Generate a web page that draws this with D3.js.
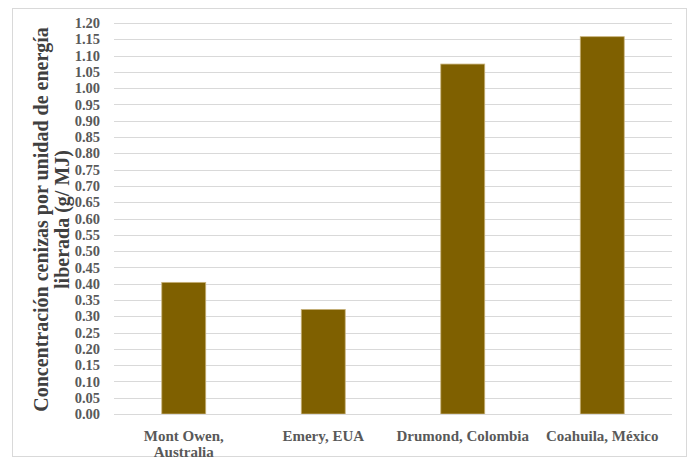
<!DOCTYPE html>
<html>
<head>
<meta charset="utf-8">
<script src="https://cdn.jsdelivr.net/npm/d3@7"></script>
<style>
  html, body { margin: 0; padding: 0; background: #fff; }
  svg { display: block; }
</style>
</head>
<body>
<svg id="chart" width="691" height="461"></svg>
<script>
const categories = ["Mont Owen, Australia", "Emery, EUA", "Drumond, Colombia", "Coahuila, México"];
const values = [0.404, 0.321, 1.074, 1.158];
const yTicks = [0.00,0.05,0.10,0.15,0.20,0.25,0.30,0.35,0.40,0.45,0.50,0.55,0.60,0.65,0.70,0.75,0.80,0.85,0.90,0.95,1.00,1.05,1.10,1.15,1.20];
const yTitleLines = ["Concentración cenizas por unidad de energía", "liberada (g/ MJ)"];

const svg = d3.select("#chart");
const plot = { left: 114, right: 672, top: 23, bottom: 414 };
const fontFam = "\"Liberation Serif\", \"Times New Roman\", serif";

// outer frame
svg.append("rect")
  .attr("x", 12.5).attr("y", 8.5)
  .attr("width", 674).attr("height", 448)
  .attr("fill", "#fff").attr("stroke", "#d9d9d9").attr("stroke-width", 1);

const x = d3.scaleBand().domain(categories).range([plot.left, plot.right]).padding(0);
const y = d3.scaleLinear().domain([0, 1.2]).range([plot.bottom, plot.top]);

// gridlines
svg.append("g").selectAll("line").data(yTicks).join("line")
  .attr("x1", plot.left).attr("x2", plot.right)
  .attr("y1", d => Math.round(y(d)) + 0.5).attr("y2", d => Math.round(y(d)) + 0.5)
  .attr("stroke", "#d9d9d9").attr("stroke-width", 1);

// y axis labels
const yAxis = d3.axisLeft(y).tickValues(yTicks).tickFormat(d3.format(".2f")).tickSize(0).tickPadding(14);
const yg = svg.append("g").attr("transform", `translate(${plot.left},0)`).call(yAxis);
yg.attr("font-family", null).attr("font-size", null);
yg.select(".domain").remove();
yg.selectAll("text")
  .style("font-family", fontFam).style("font-weight", "bold")
  .style("font-size", "14.5px").attr("fill", "#595959");

// bars
const barFrac = 0.315;
svg.append("g").selectAll("rect").data(values).join("rect")
  .attr("x", (d, i) => x(categories[i]) + x.bandwidth() * (1 - barFrac) / 2)
  .attr("width", x.bandwidth() * barFrac)
  .attr("y", d => y(d))
  .attr("height", d => y(0) - y(d))
  .attr("fill", "#7f6000")
  .attr("stroke", "#c8b27a").attr("stroke-width", 0.8);

// x axis line
svg.append("line")
  .attr("x1", plot.left).attr("x2", plot.right)
  .attr("y1", Math.round(y(0)) + 0.5).attr("y2", Math.round(y(0)) + 0.5)
  .attr("stroke", "#d9d9d9").attr("stroke-width", 1);

// x labels with wrapping
const xAxis = d3.axisBottom(x).tickSize(0).tickPadding(0);
const xg = svg.append("g").attr("transform", `translate(0,${plot.bottom})`).call(xAxis);
xg.attr("font-family", null).attr("font-size", null);
xg.select(".domain").remove();
const maxW = 140;
xg.selectAll("text")
  .style("font-family", fontFam).style("font-weight", "bold")
  .style("font-size", "15px").attr("fill", "#595959")
  .attr("y", 27).attr("dy", 0)
  .each(function(d) {
    const t = d3.select(this);
    t.text(d);
    if (this.getComputedTextLength() > maxW) {
      const idx = d.indexOf(",");
      const lines = [d.slice(0, idx + 1), d.slice(idx + 2)];
      t.text(null);
      lines.forEach((ln, k) => {
        t.append("tspan").attr("x", 0).attr("y", 27 + k * 16).text(ln);
      });
    }
  });

// y title
const cy = (plot.top + plot.bottom) / 2 + 1;
const tg = svg.append("g").attr("transform", `translate(0,${cy}) rotate(-90)`);
tg.selectAll("text").data(yTitleLines).join("text")
  .attr("x", 0).attr("y", (d, i) => 48 + i * 21)
  .attr("text-anchor", "middle")
  .style("font-family", fontFam).style("font-weight", "bold")
  .style("font-size", "20px").attr("fill", "#404040")
  .text(d => d);
</script>
</body>
</html>
